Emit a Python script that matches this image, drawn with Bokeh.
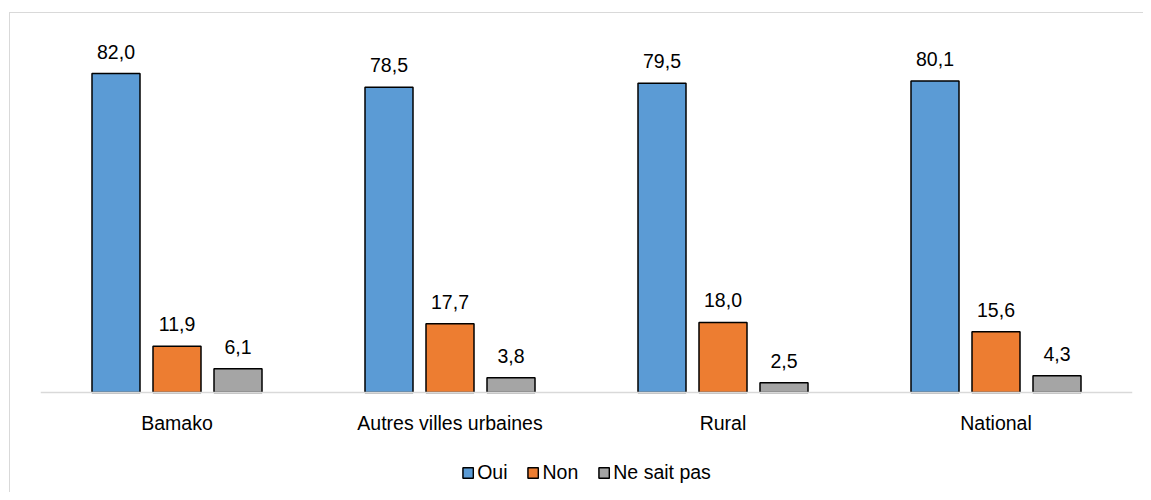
from bokeh.plotting import figure
from bokeh.models import ColumnDataSource, FactorRange, Legend, LegendItem, Range1d
from bokeh.transform import dodge
from bokeh.core.properties import value
from bokeh.embed import file_html
from bokeh.resources import INLINE

categories = ["Bamako", "Autres villes urbaines", "Rural", "National"]
series_names = ["Oui", "Non", "Ne sait pas"]
oui = [82.0, 78.5, 79.5, 80.1]
non = [11.9, 17.7, 18.0, 15.6]
nsp = [6.1, 3.8, 2.5, 4.3]
colors = ["#5B9BD5", "#ED7D31", "#A5A5A5"]

FONT = "Liberation Sans"
FS = "19.5px"

W, H = 1143, 492
BASE_PX = 392.0      # baseline, px from top
PX_PER_UNIT = 3.889

def fmt(v):
    return f"{v:.1f}".replace(".", ",")

src = ColumnDataSource(dict(
    cat=categories,
    oui=oui, non=non, nsp=nsp,
    oui_t=[fmt(v) for v in oui],
    non_t=[fmt(v) for v in non],
    nsp_t=[fmt(v) for v in nsp],
))

p = figure(
    x_range=FactorRange(*categories, range_padding=0),
    y_range=Range1d(-(H - BASE_PX) / PX_PER_UNIT, BASE_PX / PX_PER_UNIT),
    width=W, height=H,
    output_backend="svg", toolbar_location=None,
    min_border_left=40, min_border_right=11,
    min_border_top=0, min_border_bottom=0,
)
p.border_fill_color = None
p.background_fill_color = None
p.styles = {
    "background": "linear-gradient(#d9d9d9,#d9d9d9) 9px 12px / 100% 1px no-repeat, "
                  "linear-gradient(#d9d9d9,#d9d9d9) 9px 12px / 1px 100% no-repeat, #ffffff",
}
p.outline_line_color = None
p.xgrid.grid_line_color = None
p.ygrid.grid_line_color = None
p.yaxis.visible = False

bw = 48 / 273
off = 61 / 273
renderers = []
for key, col, o in zip(["oui", "non", "nsp"], colors, [-off, 0, off]):
    r = p.vbar(x=dodge("cat", o, range=p.x_range), top=key, bottom=0, width=bw, source=src,
               fill_color=col, line_color="#000000", line_width=1.5)
    renderers.append(r)
    p.text(x=dodge("cat", o, range=p.x_range), y=key, text=key + "_t", source=src,
           text_align="center", text_baseline="alphabetic", y_offset=-22,
           text_font=value(FONT), text_font_size=FS, text_color="#000000")

ax = p.xaxis[0]
ax.fixed_location = 0
ax.axis_line_color = "#d9d9d9"
ax.axis_line_width = 1.5
ax.major_tick_line_color = None
ax.minor_tick_line_color = None
ax.major_label_standoff = 13
ax.major_label_text_font = FONT
ax.major_label_text_font_size = FS
ax.major_label_text_color = "#000000"

legend = Legend(
    items=[LegendItem(label=n, renderers=[r]) for n, r in zip(series_names, renderers)],
    orientation="horizontal", location="bottom_center",
    label_text_font=FONT, label_text_font_size=FS, label_text_color="#000000",
    glyph_width=13, glyph_height=13, label_standoff=3, spacing=19,
    border_line_color=None, background_fill_alpha=0,
    padding=0, margin=8,
)
p.add_layout(legend, "center")

open("out.html", "w").write(file_html(p, INLINE))
